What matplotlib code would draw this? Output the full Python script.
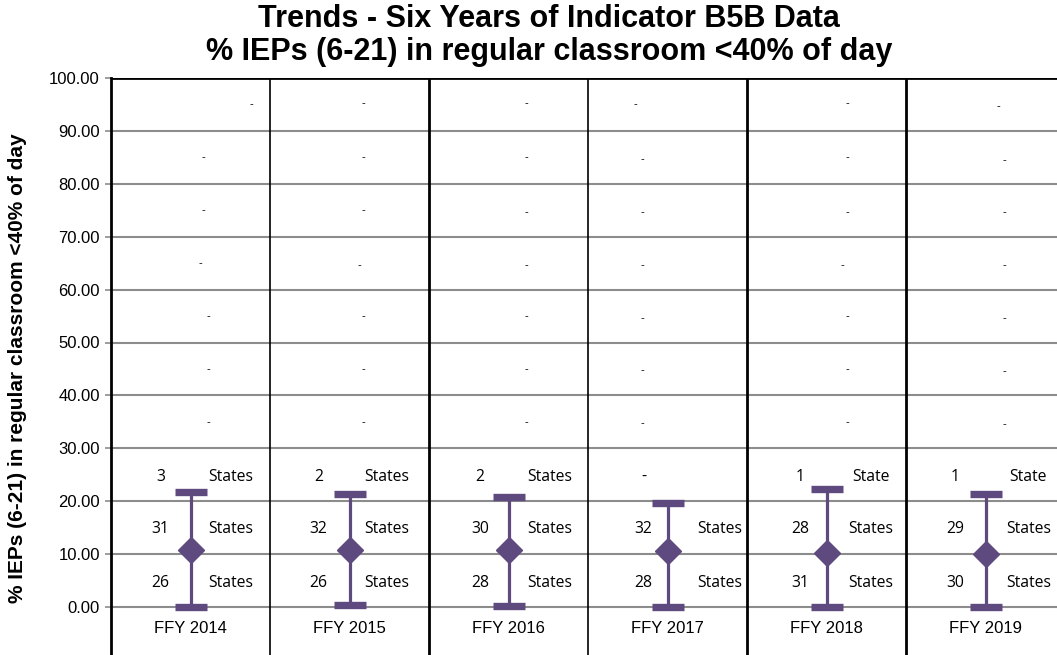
import matplotlib
matplotlib.use("Agg")
import matplotlib.pyplot as plt
import numpy as np

plt.rcParams['font.family'] = ['Liberation Sans', 'DejaVu Sans']

# ---------------- data ----------------
years = ["FFY 2014", "FFY 2015", "FFY 2016", "FFY 2017", "FFY 2018", "FFY 2019"]
mean_vals = [10.8, 10.8, 10.8, 10.6, 10.3, 10.1]
upper_vals = [21.8, 21.4, 20.8, 19.7, 22.3, 21.4]
lower_vals = [0.0, 0.4, 0.2, 0.0, 0.0, 0.0]

count_above = ["3", "2", "2", "-", "1", "1"]
count_within = ["31", "32", "30", "32", "28", "29"]
count_below = ["26", "26", "28", "28", "31", "30"]
word_above = ["States", "States", "States", "", "State", "State"]
word_within = ["States"] * 6
word_below = ["States"] * 6

# "-" placeholder data labels (hidden series values)
dash_y = [95.0, 85.0, 75.0, 65.0, 55.0, 45.0, 35.0]
yticks = np.arange(0, 101, 10)

# ---------------- layout (positions only) ----------------
dash_offsets = [
    [0.38, 0.08, 0.08, 0.06, 0.11, 0.11, 0.11],
    [0.09, 0.09, 0.09, 0.06, 0.09, 0.09, 0.09],
    [0.11, 0.11, 0.11, 0.11, 0.11, 0.11, 0.11],
    [-0.20, -0.16, -0.16, -0.16, -0.16, -0.16, -0.16],
    [0.13, 0.13, 0.13, 0.10, 0.13, 0.13, 0.13],
    [0.08, 0.12, 0.12, 0.12, 0.12, 0.12, 0.12],
]
dash_y_shift = [
    [0.0, 0.0, 0.0, 0.0, 0.0, 0.0, 0.0],
    [0.3, 0.0, 0.0, -0.3, 0.0, 0.0, 0.0],
    [0.3, 0.0, -0.3, -0.3, 0.0, 0.0, 0.0],
    [0.0, -0.3, -0.3, -0.3, -0.3, -0.3, -0.3],
    [0.3, 0.0, -0.3, -0.3, 0.0, 0.0, 0.0],
    [-0.3, -0.5, -0.3, -0.3, -0.3, -0.5, -0.5],
]
count_dx = [-0.19, -0.195, -0.18, -0.15, -0.165, -0.19]
word_dx = [0.255, 0.235, 0.26, 0.33, 0.28, 0.27]

purple = "#5E4A7E"

# ---------------- figure ----------------
W, H = 1057, 655
fig = plt.figure(figsize=(W / 100, H / 100), dpi=100)
ax_left, ax_right = 111, 1065
ax_top, ax_bottom = 78, 655
ax = fig.add_axes([ax_left / W, 1 - ax_bottom / H,
                   (ax_right - ax_left) / W, (ax_bottom - ax_top) / H])

ymin = -(ax_bottom - 607) / ((607 - 78) / 100.0)
ax.set_ylim(ymin, 100)
ax.set_xlim(-0.5, len(years) - 0.5)

x = np.arange(len(years))

# grid lines
for yv in yticks[:-1]:
    ax.axhline(yv, color="#8c8c8c", lw=1.5, zorder=1)
ax.axhline(100, color="black", lw=2.0, zorder=2)

# column separators
sep_widths = [1.2, 2.0, 1.2, 2.0, 2.0]
for i, lw in enumerate(sep_widths):
    ax.axvline(i + 0.5, color="black", lw=lw, zorder=2)

for s in ["top", "right", "bottom"]:
    ax.spines[s].set_visible(False)
ax.spines["left"].set_linewidth(2.0)
ax.spines["left"].set_bounds(ymin, 100)

ax.set_yticks(yticks)
ax.set_yticklabels([f"{v:.2f}" for v in yticks], fontsize=12)
ax.tick_params(axis="y", length=4, width=1.2, color="#8c8c8c", pad=4)
ax.set_xticks([])

# error bars
yerr = [np.array(mean_vals) - np.array(lower_vals),
        np.array(upper_vals) - np.array(mean_vals)]
ax.errorbar(x, mean_vals, yerr=yerr, fmt="D", color=purple, ecolor=purple,
            markersize=13.5, elinewidth=2.3, capsize=11.5, capthick=5.3, zorder=5)

# year labels
for i, yr in enumerate(years):
    ax.text(i, -4.0, yr, ha="center", va="center", fontsize=12, color="black")

# count labels
cfont = dict(family=["Open Sans", "DejaVu Sans"], fontsize=11.3, color="black",
             va="center")
for i in range(len(years)):
    ax.text(i + count_dx[i], 24.6, count_above[i], ha="center", **cfont)
    if word_above[i]:
        ax.text(i + word_dx[i], 24.6, word_above[i], ha="center", **cfont)
    ax.text(i + count_dx[i], 14.7, count_within[i], ha="center", **cfont)
    ax.text(i + word_dx[i], 14.7, word_within[i], ha="center", **cfont)
    ax.text(i + count_dx[i], 4.5, count_below[i], ha="center", **cfont)
    ax.text(i + word_dx[i], 4.5, word_below[i], ha="center", **cfont)

for i in range(len(years)):
    for j, yv in enumerate(dash_y):
        ax.text(i + dash_offsets[i][j], yv + dash_y_shift[i][j], "-",
                ha="center", va="center", fontsize=8, color="black")

# titles
fig.text(549 / W, 1 - 19 / H, "Trends - Six Years of Indicator B5B Data",
         ha="center", va="center", fontsize=22, fontweight="bold")
fig.text(549 / W, 1 - 52 / H, "% IEPs (6-21) in regular classroom <40% of day",
         ha="center", va="center", fontsize=22, fontweight="bold")

fig.text(18 / W, 1 - 368 / H, "% IEPs (6-21) in regular classroom <40% of day",
         ha="center", va="center", rotation=90, fontsize=15, fontweight="bold")

fig.savefig("out.png", dpi=100)
